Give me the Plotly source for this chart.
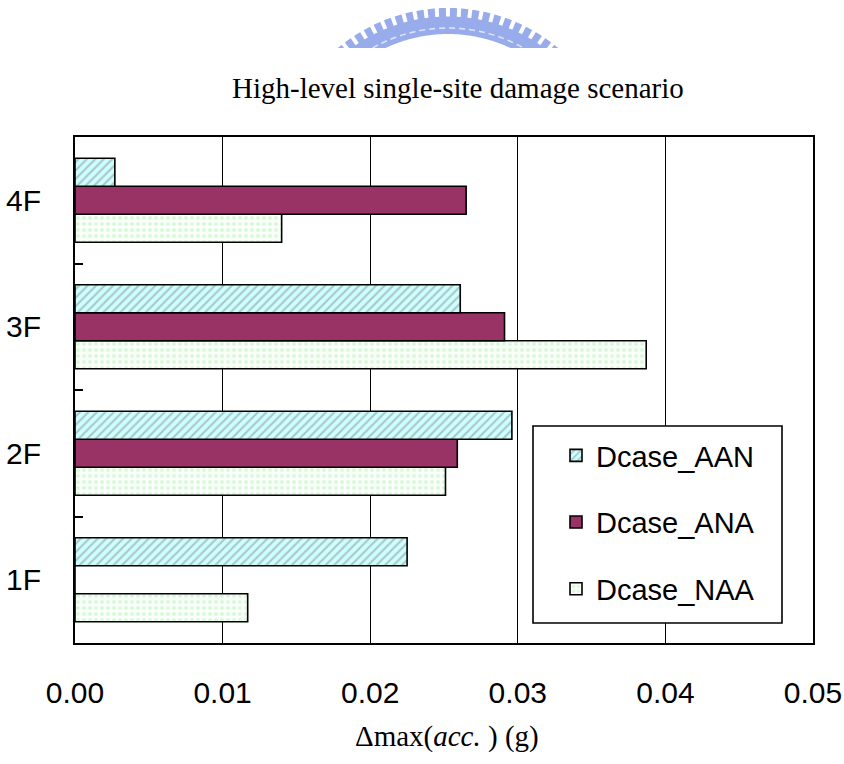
import numpy as np
import plotly.graph_objects as go

# Floors and peak acceleration differences (g) for each damage case
floors = ["1F", "2F", "3F", "4F"]
dcase_aan = [0.0225, 0.0296, 0.0261, 0.0027]
dcase_ana = [0.0, 0.0259, 0.0291, 0.0265]
dcase_naa = [0.0117, 0.0251, 0.0387, 0.0140]
x_ticks = [0.00, 0.01, 0.02, 0.03, 0.04, 0.05]

W, H = 844, 764
L, R, T, B = 75, 31, 137, 121
pw, ph = W - L - R, H - T - B


def px_x(x):
    return (x - L) / pw


def px_y(y):
    return (H - B - y) / ph


sans = "Liberation Sans, Arial, sans-serif"
serif = "Liberation Serif, Times New Roman, serif"
edge = dict(color="black", width=1.6)

fig = go.Figure()
# horizontal groups are stacked bottom-up, so the lowest bar is added first
fig.add_trace(go.Bar(
    y=floors, x=dcase_naa, name="Dcase_NAA", orientation="h",
    legendgroup="naa", legendrank=3,
    marker=dict(color="#f6fff6", line=edge,
                pattern=dict(shape=".", bgcolor="#fbfffb", fgcolor="#b9f2b9",
                             size=6, solidity=0.35)),
))
fig.add_trace(go.Bar(
    y=floors, x=dcase_ana, name="Dcase_ANA", orientation="h",
    legendgroup="ana", legendrank=2,
    marker=dict(color="#993366", line=edge),
))
fig.add_trace(go.Bar(
    y=floors, x=dcase_aan, name="Dcase_AAN", orientation="h",
    legendgroup="aan", legendrank=1,
    marker=dict(color="#ccffff", line=edge,
                pattern=dict(shape="/", bgcolor="#ccffff", fgcolor="#8c8c8c",
                             size=6, solidity=0.35)),
))

# legend frame
fig.add_shape(type="rect", xref="paper", yref="paper",
              x0=px_x(533), x1=px_x(782), y0=px_y(623), y1=px_y(426),
              fillcolor="white", line=dict(color="black", width=1.6),
              layer="above")

# faded crest band along the top edge of the page
cx, cy, r_out, r_in, y_cut = 448.0, 180.0, 172.0, 146.0, 48.0
a_out = np.arccos((cy - y_cut) / r_out)
a_in = np.arccos((cy - y_cut) / r_in)
t_out = np.linspace(-a_out, a_out, 60)
t_in = np.linspace(a_in, -a_in, 60)
pts = [(cx + r_out * np.sin(t), cy - r_out * np.cos(t)) for t in t_out]
pts += [(cx + r_in * np.sin(t), cy - r_in * np.cos(t)) for t in t_in]
band = "M " + " L ".join(f"{px_x(x):.5f},{px_y(y):.5f}" for x, y in pts) + " Z"
fig.add_shape(type="path", xref="paper", yref="paper", path=band,
              fillcolor="#98acec", line=dict(width=0), layer="below")
r_mid = r_out - 4
a_mid = np.arccos((cy - y_cut) / r_mid)
t_mid = np.linspace(-a_mid, a_mid, 60)
arc = "M " + " L ".join(
    f"{px_x(cx + r_mid * np.sin(t)):.5f},{px_y(cy - r_mid * np.cos(t)):.5f}"
    for t in t_mid)
fig.add_shape(type="path", xref="paper", yref="paper", path=arc,
              line=dict(color="white", width=9, dash="4px,7px"),
              layer="below")
r_thin = r_in + 6
a_thin = np.arccos((cy - y_cut) / r_thin)
t_thin = np.linspace(-a_thin, a_thin, 60)
arc2 = "M " + " L ".join(
    f"{px_x(cx + r_thin * np.sin(t)):.5f},{px_y(cy - r_thin * np.cos(t)):.5f}"
    for t in t_thin)
fig.add_shape(type="path", xref="paper", yref="paper", path=arc2,
              line=dict(color="#dfe6fa", width=1.5, dash="6px,4px"),
              layer="below")

fig.add_annotation(text="High-level single-site damage scenario",
                   xref="paper", yref="paper", x=px_x(458), y=px_y(88),
                   xanchor="center", yanchor="middle", showarrow=False,
                   font=dict(family=serif, size=29, color="black"))
fig.add_annotation(text="Δmax(<i>acc.</i> ) (g)",
                   xref="paper", yref="paper", x=px_x(447), y=px_y(736),
                   xanchor="center", yanchor="middle", showarrow=False,
                   font=dict(family=serif, size=29, color="black"))

fig.update_layout(
    width=W, height=H,
    margin=dict(l=L, r=R, t=T, b=B, pad=0, autoexpand=False),
    paper_bgcolor="white", plot_bgcolor="white",
    barmode="group", bargap=0.336, bargroupgap=0,
    font=dict(family=sans, size=30, color="black"),
    showlegend=True,
    legend=dict(x=px_x(556), y=px_y(430), xanchor="left", yanchor="top",
                bgcolor="rgba(0,0,0,0)", borderwidth=0,
                traceorder="grouped", tracegroupgap=26,
                font=dict(family=sans, size=29, color="black")),
)
fig.update_xaxes(
    range=[0, 0.05], tickvals=x_ticks, tickformat=".2f",
    showgrid=True, gridcolor="black", gridwidth=1,
    showline=True, linecolor="black", linewidth=2, mirror=True,
    ticks="", ticklabelstandoff=22, zeroline=False, automargin=False,
    tickfont=dict(family=sans, size=30),
)
fig.update_yaxes(
    categoryorder="array", categoryarray=floors,
    showgrid=False, showline=True, linecolor="black", linewidth=2,
    mirror=True, ticks="inside", tickson="boundaries", ticklen=8,
    tickcolor="black", tickwidth=1.5, ticklabelstandoff=26, automargin=False,
    tickfont=dict(family=sans, size=30),
)

fig.write_html("out.html")
